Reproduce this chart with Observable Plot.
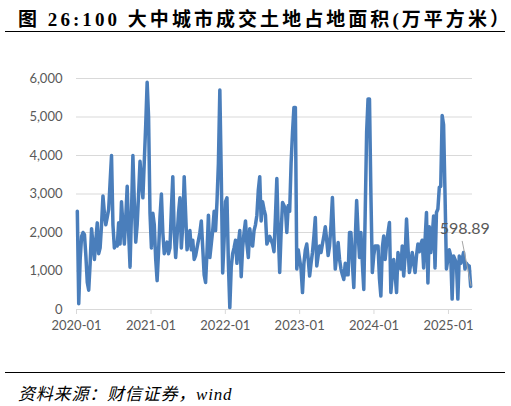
<!DOCTYPE html>
<html>
<head>
<meta charset="utf-8">
<script src="https://cdn.jsdelivr.net/npm/d3@7"></script>
<script src="https://cdn.jsdelivr.net/npm/@observablehq/plot@0.6"></script>
<style>
  html, body { margin: 0; padding: 0; background: #fff; }
  #wrap { position: relative; width: 511px; height: 406px; overflow: hidden; }
  #title { position: absolute; left: 18px; top: 4px; font-family: "Liberation Serif", "Noto Sans CJK SC", serif; font-weight: bold; font-size: 19px; letter-spacing: 3.05px; white-space: nowrap; color: #000; }
  #rule1 { position: absolute; left: 5px; width: 500px; top: 31px; height: 0; border-top: 1.5px solid #000; }
  #chart { position: absolute; left: 0; top: 40px; }
  #rule2 { position: absolute; left: 5px; width: 500px; top: 372px; height: 0; border-top: 1.5px solid #000; }
  #source { position: absolute; left: 18px; top: 380px; font-family: "Liberation Serif", "Noto Sans CJK SC", serif; font-style: italic; font-size: 17px; letter-spacing: 0.8px; color: #000; white-space: nowrap; }
</style>
</head>
<body>
<div id="wrap">
  <div id="title">图 26:100 大中城市成交土地占地面积(万平方米）</div>
  <div id="rule1"></div>
  <div id="chart"></div>
  <div id="rule2"></div>
  <div id="source">资料来源：财信证券，wind</div>
</div>
<script>
// Weekly series starting at this date
const firstWeek = "2020-01-05";
const landArea = [
  2550, 150, 1300, 1900, 2000, 1950, 1400, 700, 500, 1200,
  2100, 1700, 1300, 1800, 2250, 1450, 1600, 2200, 2950, 2500,
  2200, 2400, 2600, 3300, 4000, 2200, 1600, 1700, 1650, 2250,
  1700, 2800, 2200, 1700, 2400, 3200, 2000, 1100, 2500, 4000,
  2800, 1750, 2200, 3000, 3850, 3300, 2900, 3850, 4800, 5900,
  5000, 2500, 1600, 2500, 2200, 1300, 750, 1500, 2400, 3000,
  2000, 1450, 1600, 1750, 1450, 1600, 2600, 3450, 2000, 1350,
  1900, 2500, 2900, 1600, 2200, 3450, 2500, 1550, 1800, 2050,
  1550, 1800, 1300, 1400, 1600, 1800, 2000, 2300, 1600, 900,
  700, 1500, 2450, 1350, 1700, 2050, 2550, 2050, 2800, 3800,
  5700, 3500, 950, 1800, 2800, 2900, 1200, 50, 1100, 1450,
  1600, 1800, 1200, 1700, 2050, 850, 1600, 2000, 2300, 1700,
  1350, 2100, 1800, 1650, 2050, 2200, 2450, 3100, 3450, 2300,
  2800, 2600, 2450, 1700, 1800, 1900, 1800, 1700, 1500, 2400,
  3400, 2000, 960, 2000, 2780, 2700, 2620, 2000, 2700, 2550,
  3800, 4600, 5250, 5250, 1050, 1550, 1300, 1050, 440, 1200,
  1550, 1700, 1300, 870, 1200, 1480, 1900, 2390, 1130, 1400,
  1650, 1480, 1700, 1910, 2150, 1800, 1400, 1650, 2200, 2910,
  1900, 1050, 1400, 1740, 1300, 1050, 900, 780, 1200, 900,
  900, 2000, 2000, 1200, 570, 1800, 2830, 2000, 1350, 2000,
  1200, 520, 2500, 4600, 5470, 5470, 3000, 960, 1400, 1650,
  1650, 1650, 800, 350, 1600, 1910, 1300, 1700, 2000, 2260,
  440, 900, 1300, 900, 440, 1480, 1200, 1050, 1650, 870,
  1400, 2350, 1600, 960, 1200, 1480, 1200, 960, 1400, 1700,
  1500, 1700, 1800, 1080, 1800, 2520, 690, 2150, 1480, 1900,
  2430, 1080, 2520, 2610, 3170, 3200, 5040, 4800, 3000, 1050,
  1300, 1550, 1400, 270, 1390, 1300, 1200, 270, 1390, 1200,
  1300, 1480, 1050, 1200, 1150, 1130, 598.89
];
const yTicks = [0, 1000, 2000, 3000, 4000, 5000, 6000];
const xTickLabels = ["2020-01", "2021-01", "2022-01", "2023-01", "2024-01", "2025-01"];
const xDomainLabels = ["2020-01-01", "2025-04-29"];
const lastLabel = "598.89";

const start = new Date(firstWeek + "T00:00:00Z");
const data = landArea.map((v, i) => ({ date: d3.utcDay.offset(start, 7 * i), value: v }));
const last = data[data.length - 1];
const xTicks = xTickLabels.map(s => new Date(s + "-01T00:00:00Z"));

const grey = "#595959";
const plot = Plot.plot({
  width: 511,
  height: 330,
  marginLeft: 76,
  marginRight: 39,
  marginTop: 38,
  marginBottom: 61,
  style: { fontFamily: "Lato, 'Noto Sans', sans-serif", fontSize: "13px", color: grey, background: "transparent" },
  x: { type: "utc", domain: xDomainLabels.map(s => new Date(s + "T00:00:00Z")) },
  y: { domain: [0, 6000] },
  marks: [
    Plot.gridY(yTicks, { stroke: "#d9d9d9", strokeOpacity: 1, strokeWidth: 1 }),
    Plot.axisY(yTicks, { tickSize: 0, tickPadding: 14, tickFormat: d3.format(","), label: null, fontSize: 13, fill: grey }),
    Plot.ruleY([0], { stroke: "#d9d9d9", strokeWidth: 1 }),
    Plot.axisX(xTicks, { tickSize: 5, tickPadding: 6, stroke: "#d9d9d9", tickFormat: d3.utcFormat("%Y-%m"), label: null, fontSize: 13, fill: grey }),
    Plot.line(data, { x: "date", y: "value", stroke: "#4a7ebb", strokeWidth: 3.5, strokeLinejoin: "round", strokeLinecap: "round" }),
    Plot.text([last], { x: "date", y: "value", text: () => lastLabel, dx: -31, dy: -58, textAnchor: "start", fill: grey, fontSize: 16 })
  ]
});

// leader line from label to last point, positioned through the plot's scales
const sx = plot.scale("x"), sy = plot.scale("y");
const px = sx.apply(last.date), py = sy.apply(last.value);
const ns = "http://www.w3.org/2000/svg";
const ln = document.createElementNS(ns, "line");
ln.setAttribute("x1", px - 8); ln.setAttribute("y1", py - 45);
ln.setAttribute("x2", px + 1); ln.setAttribute("y2", py);
ln.setAttribute("stroke", "#a6a6a6"); ln.setAttribute("stroke-width", 1);
plot.appendChild(ln);

document.getElementById("chart").appendChild(plot);
</script>
</body>
</html>
